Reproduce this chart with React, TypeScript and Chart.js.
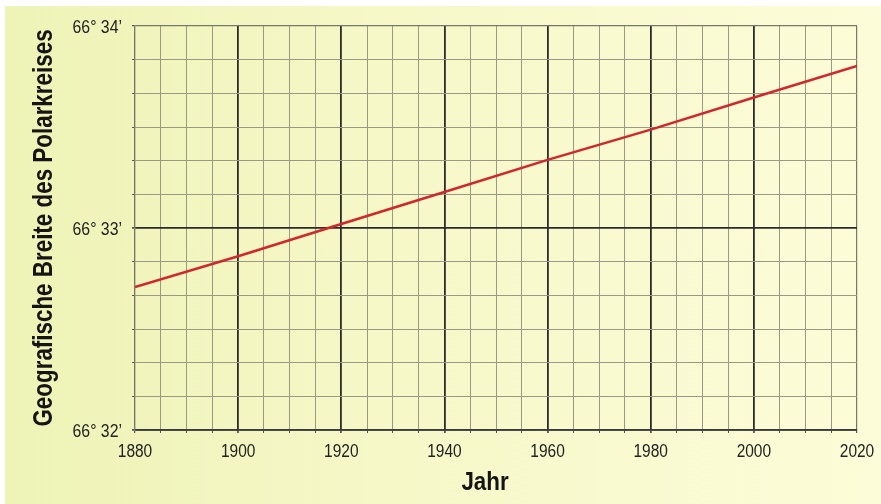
import React, { useEffect, useRef } from "react";
import { Chart, registerables } from "chart.js";

Chart.register(...registerables);

// Data (years and latitude of the Arctic Circle: 66° + minutes)
const years = [1880, 1900, 1920, 1940, 1960, 1980, 2000, 2020];
const latitudeMinutes = [32.708, 32.86, 33.02, 33.178, 33.337, 33.487, 33.646, 33.802];
const degrees = 66;
const yLabelMinutes = [32, 33, 34];
const xLabelYears = [1880, 1900, 1920, 1940, 1960, 1980, 2000, 2020];
const xTitle = "Jahr";
const yTitle = "Geografische Breite des Polarkreises";

const FAMILY = '"Liberation Sans", Arial, Helvetica, sans-serif';

const xMin = 1880, xMax = 2020, xMinorStep = 5;
const yMin = 32, yMax = 34, yMinorPerUnit = 6;

function drawCondensed(ctx: CanvasRenderingContext2D, text: string, x: number, y: number, sx: number, rot = 0) {
  ctx.save();
  ctx.translate(x, y);
  if (rot) ctx.rotate(rot);
  ctx.scale(sx, 1);
  ctx.fillText(text, 0, 0);
  ctx.restore();
}

const condensedTextPlugin = {
  id: "condensedText",
  afterDraw(chart: any) {
    const ctx: CanvasRenderingContext2D = chart.ctx;
    const xs = chart.scales.x;
    const ys = chart.scales.y;
    const area = chart.chartArea;
    ctx.save();
    ctx.textBaseline = "alphabetic";

    // tick labels
    ctx.fillStyle = "#222222";
    ctx.font = `18px ${FAMILY}`;
    ctx.textAlign = "center";
    for (const yr of xLabelYears) {
      drawCondensed(ctx, String(yr), xs.getPixelForValue(yr), area.bottom + 27, 0.86);
    }
    ctx.textAlign = "right";
    for (const m of yLabelMinutes) {
      drawCondensed(ctx, `${degrees}° ${m}’`, area.left - 13, ys.getPixelForValue(m) + 7, 0.88);
    }

    // axis titles
    ctx.fillStyle = "#151515";
    ctx.font = `bold 26px ${FAMILY}`;
    ctx.textAlign = "center";
    drawCondensed(ctx, xTitle, 485, area.bottom + 60, 0.86);

    ctx.font = `bold 28px ${FAMILY}`;
    drawCondensed(ctx, yTitle, 52, (area.top + area.bottom) / 2, 0.8, -Math.PI / 2);
    ctx.restore();
  },
};

export default function App() {
  const ref = useRef<HTMLCanvasElement | null>(null);

  useEffect(() => {
    const canvas = ref.current;
    if (!canvas) return;

    const xTicks: number[] = [];
    for (let v = xMin; v <= xMax; v += xMinorStep) xTicks.push(v);
    const yTicks: number[] = [];
    for (let i = 0; i <= (yMax - yMin) * yMinorPerUnit; i++) yTicks.push(yMin + i / yMinorPerUnit);

    const isMajorY = (v: number) => yLabelMinutes.some((m) => Math.abs(m - v) < 1e-6);
    const isMajorX = (v: number) => xLabelYears.includes(v);

    const chart = new Chart(canvas, {
      type: "line",
      data: {
        datasets: [
          {
            data: years.map((y, i) => ({ x: y, y: latitudeMinutes[i] })),
            borderColor: "#d1262c",
            borderWidth: 2.5,
            pointRadius: 0,
            tension: 0,
          },
        ],
      },
      plugins: [condensedTextPlugin],
      options: {
        animation: false,
        responsive: false,
        maintainAspectRatio: false,
        plugins: { legend: { display: false }, tooltip: { enabled: false } },
        layout: { padding: { top: 26, right: 24, left: 0, bottom: 0 } },
        scales: {
          x: {
            type: "linear",
            min: xMin,
            max: xMax,
            afterBuildTicks: (s: any) => {
              s.ticks = xTicks.map((v) => ({ value: v }));
            },
            afterFit: (s: any) => {
              s.height = 74;
            },
            ticks: { display: false, autoSkip: false },
            grid: {
              color: (ctx: any) => {
                const v = ctx.tick?.value;
                if (v === xMin || v === xMax) return "#77776a";
                return isMajorX(v) ? "#2b2b2b" : "#9a9a84";
              },
              lineWidth: (ctx: any) => {
                const v = ctx.tick?.value;
                if (v === xMin || v === xMax) return 1.2;
                return isMajorX(v) ? 1.8 : 1;
              },
              tickLength: 3,
              tickColor: "#555",
            },
            border: { display: true, color: "#3a3a3a", width: 1.6 },
          },
          y: {
            type: "linear",
            min: yMin,
            max: yMax,
            afterBuildTicks: (s: any) => {
              s.ticks = yTicks.map((v) => ({ value: v }));
            },
            afterFit: (s: any) => {
              s.width = 135;
            },
            ticks: { display: false, autoSkip: false },
            grid: {
              color: (ctx: any) => {
                const v = ctx.tick?.value;
                if (Math.abs(v - yMax) < 1e-6) return "#77776a";
                return isMajorY(v) ? "#2b2b2b" : "#9a9a84";
              },
              lineWidth: (ctx: any) => {
                const v = ctx.tick?.value;
                if (Math.abs(v - yMax) < 1e-6) return 1.2;
                return isMajorY(v) ? 1.8 : 1;
              },
              tickLength: 3,
              tickColor: "#555",
            },
            border: { display: true, color: "#77776a", width: 1.2 },
          },
        },
      },
    } as any);

    return () => chart.destroy();
  }, []);

  return (
    <div style={{ position: "fixed", left: 0, top: 0, width: 881, height: 504, background: "#ffffff" }}>
      <div
        style={{
          position: "absolute",
          left: 5,
          top: 6,
          right: 0,
          bottom: 0,
          background: "linear-gradient(90deg, #eef3b6 0%, #f6f8c8 45%, #fcfcd8 100%)",
        }}
      />
      <canvas
        ref={ref}
        width={881}
        height={504}
        style={{ position: "absolute", left: 0, top: 0, width: 881, height: 504 }}
      />
    </div>
  );
}
